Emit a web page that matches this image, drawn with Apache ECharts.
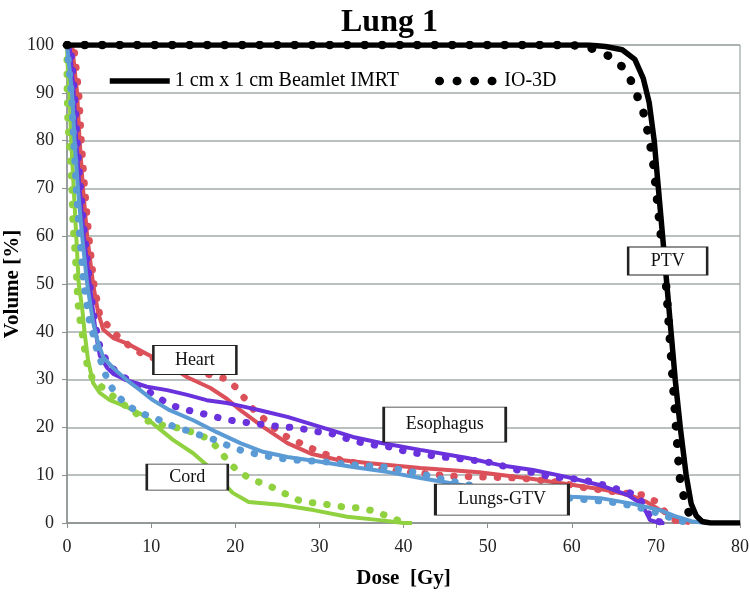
<!DOCTYPE html>
<html>
<head>
<meta charset="utf-8">
<script src="https://cdn.jsdelivr.net/npm/echarts@6/dist/echarts.min.js"></script>
<style>
  html, body { margin: 0; padding: 0; background: #fff; }
  #chart { width: 750px; height: 592px; }
</style>
</head>
<body>
<div id="chart"></div>
<script>
// dose [Gy], volume [%]
const ptvBeamlet = [[0,100],[62,100],[64,99.7],[66,99],[67.5,97],[68.5,93],[69.2,88],[69.8,80],[70.3,70],[70.8,60],[71.3,50],[71.8,40],[72.3,30],[72.9,20],[73.6,10],[74.2,4],[74.8,1.5],[75.5,0.3],[76.5,0],[80,0]]
const ptvIO3D = [[0,100],[60,100],[62,99.5],[63.5,98.5],[65.2,97],[66.7,94],[67.5,90.5],[68.4,86.8],[68.9,83],[69.3,79.5],[69.7,75],[70,70],[70.3,65],[70.6,60],[70.9,55],[71.2,50],[71.4,45],[71.6,40],[71.8,35],[72,30],[72.2,25],[72.4,20],[72.6,15],[72.8,10],[73.1,7],[73.4,5],[73.8,2.5],[74.5,0.5],[75,0]]

const heartBeamlet = [[0,100],[0.6,100],[1.2,90],[1.5,80],[1.9,70],[2.4,60],[3.1,50],[3.7,44],[4.3,40.5],[5.5,38.7],[7.1,37.6],[9,35.8],[11,34],[13,32],[14.3,30.5],[17,28.3],[19,26],[20.6,23.6],[23.3,20.1],[26.2,16.7],[29,14.5],[32,13.3],[36,12.5],[42,11.5],[49,10.6],[55,9.3],[60,8],[64,6.9],[67,5.8],[69,4.3],[71,2.2],[72.8,0.3],[74,0]]
const heartIO3D = [[0,100],[0.8,100],[1.4,90],[1.7,80],[2.1,70],[2.6,60],[3.2,50],[3.9,43.5],[4.8,41.4],[5.9,39.3],[7.7,36.6],[9.3,35.1],[12,33.5],[15,32],[17,31],[18.6,30.3],[20,28.5],[21.2,25.9],[22.4,23.2],[23.9,21.1],[25.3,18.8],[26.9,17.4],[28.7,15.9],[30.4,14.6],[32.5,13.2],[34.5,12.5],[36.4,11.5],[38,11.1],[41.6,10.5],[45.5,9.8],[49.9,9.6],[53.9,9.4],[58.3,8.6],[61,7.5],[64,6.8],[66.1,6.3],[68.4,5.9],[69.9,4.6],[71,2.5],[72,0.8],[73,0]]

const esoBeamlet = [[0,100],[0.3,100],[0.8,90],[1.1,80],[1.5,70],[2,60],[2.7,50],[3.4,40],[3.9,35],[4.8,32.4],[5.5,31.2],[7.1,29.9],[9.5,28.5],[11.9,27.8],[14.3,26.8],[16.6,25.7],[19,25.1],[20.6,24.5],[22.9,23.6],[26.2,22.2],[30.1,20.1],[34,18],[37.2,16.8],[42,15.3],[47.6,13.6],[51.5,12.1],[55.4,11.1],[59.5,9.6],[63.4,7.9],[66.6,5.9],[68.1,4.2],[68.9,2.1],[69.3,0.6],[70.5,0],[71,0]]
const esoIO3D = [[0,100],[0.4,100],[0.9,90],[1.2,80],[1.6,70],[2.1,60],[2.7,50],[3.3,42],[3.9,37],[4.8,33.5],[6.1,31.2],[7.7,29.5],[9.3,28],[10.9,26.1],[12.6,24.5],[14.4,23.6],[16.3,22.8],[18.1,22],[20,21.3],[22,20.9],[23.8,20.5],[25.6,20.1],[27.5,19.9],[29.3,19.2],[31.3,18.8],[33,17.8],[34.8,16.9],[36.6,16.3],[38.4,15.9],[40.4,14.9],[42.2,14.4],[44.1,13.9],[45.9,13.6],[47.9,13.2],[49.9,12.8],[51.7,12],[53.5,11.1],[55.6,10.5],[57.6,9.6],[59.6,9.4],[61.2,9],[63,8.4],[64.6,7.5],[66,6.8],[67.3,6.1],[68.3,4.5],[69.1,2.1],[69.5,0.6],[70.9,0.1],[72,0]]

const lungsBeamlet = [[0,100],[0.2,100],[0.6,90],[0.9,80],[1.3,70],[1.8,60],[2.4,50],[3.1,42],[3.6,38.3],[4.3,34.7],[5.5,32.4],[7.1,29.9],[8.7,27.8],[10.2,25.7],[12.2,23.6],[15,21.5],[17.8,19],[20.6,16.7],[23.3,14.9],[26.2,13.8],[30.1,12.8],[34,11.7],[38,10.7],[42,9.4],[46,8.2],[50,7],[55,6.2],[60,5.5],[63.4,5.2],[67.3,4],[70.5,2.7],[72.5,1.3],[74.4,0.3],[76,0],[80,0]]
const lungsIO3D = [[0,100],[0.2,100],[0.5,90],[0.8,80],[1.1,70],[1.5,60],[2,50],[2.7,42],[3.1,39.5],[3.6,35.8],[4.2,33],[4.8,29.9],[5.7,27.2],[7.1,24.7],[8.7,23],[10.5,22],[12.2,20.5],[14,19.5],[15.8,18.4],[17.6,17.4],[19.4,16],[21.2,14.9],[23.2,14.2],[25,13.6],[26.9,13.2],[30.7,12.8],[34.5,12.1],[38,11.7],[41.6,10.5],[45,9],[49,7.5],[53,6.3],[56.6,5.4],[59.8,5.2],[64.6,4.4],[66.6,3.8],[68.5,3],[70.2,2.1],[72.5,0.6],[74,0]]

const cordBeamlet = [[0,100],[0.1,95],[0.3,90],[0.5,80],[0.8,70],[1.1,60],[1.4,50],[1.8,45],[2.1,39.7],[2.5,34.1],[3.1,29.3],[3.9,27.2],[5.1,25.7],[7.1,24.3],[9,22.6],[10.7,20.1],[12.6,17.4],[15,14.6],[17,11.5],[18.5,8.5],[19.7,6.3],[21.6,4.4],[25.3,3.8],[29.3,2.7],[33.3,1.3],[37.2,0.6],[40,0],[41,0]]
const cordIO3D = [[0,100],[0,92],[0.1,84],[0.4,76.6],[0.6,69.7],[0.7,62.8],[1,55.6],[1.2,49.4],[1.3,46],[1.5,42.9],[1.8,39.7],[2.1,36.2],[2.4,33],[3.1,29.9],[4.9,27.4],[6.3,25.3],[7.7,23.6],[9.3,21.5],[11.3,20.5],[13.1,19.9],[14.9,19],[16.6,17.8],[18.2,15.3],[19.1,12.8],[20.6,10.5],[22.1,9],[23.9,7.9],[25.7,6.3],[27.5,4.8],[29.3,4.2],[31.3,3.8],[33.1,3.3],[35.1,3.1],[36.9,2.3],[38.6,1],[40.4,0]]

// structure labels: name, [dose, volume] of box centre, box size
const labelNames = ['Heart', 'Cord', 'Esophagus', 'Lungs-GTV', 'PTV']
const labelCoords = [[15.2, 34.1], [14.3, 9.6], [44.9, 20.6], [51.7, 4.9], [71.4, 54.8]]
const labelSizes = [[83, 29], [81, 26], [122, 35], [133, 31], [79, 28]]

const serif = '"Liberation Serif", "DejaVu Serif", serif'

function solid(name, data, color, width) {
  return {
    name: name, type: 'line', data: data, symbol: 'none', showSymbol: false,
    lineStyle: { color: color, width: width || 4 }, itemStyle: { color: color },
    animation: false
  }
}
function dotted(name, data, color, size, gap) {
  return {
    name: name, type: 'line', data: data, symbol: 'none', showSymbol: false,
    lineStyle: { color: color, width: size || 7, type: [0.5, gap || 14], cap: 'round' },
    itemStyle: { color: color },
    animation: false
  }
}

const chart = echarts.init(document.getElementById('chart'))

const series = [
  solid('cord', cordBeamlet, '#8fd13f'),
  dotted('cord io', cordIO3D, '#8fd13f'),
  solid('heart', heartBeamlet, '#dc505a'),
  dotted('heart io', heartIO3D, '#dc505a'),
  solid('eso', esoBeamlet, '#6a32dc'),
  dotted('eso io', esoIO3D, '#6a32dc'),
  solid('lungs', lungsBeamlet, '#5b9bd5'),
  dotted('lungs io', lungsIO3D, '#5b9bd5'),
  solid('1 cm x 1 cm Beamlet IMRT', ptvBeamlet, '#000', 5.5),
  dotted('IO-3D', ptvIO3D, '#000', 8.5, 17),
  {
    name: 'labels', type: 'line', data: [], z: 10, animation: false,
    markPoint: {
      symbol: 'rect', animation: false,
      data: labelNames.map((n, i) => ({
        name: n, coord: labelCoords[i], symbolSize: labelSizes[i]
      })),
      itemStyle: { color: '#fff', borderColor: '#222', borderWidth: 1.5 },
      label: {
        show: true, position: 'inside', formatter: '{b}',
        color: '#111', fontFamily: serif, fontSize: 18
      }
    }
  }
]

const option = {
  backgroundColor: '#fff',
  title: {
    text: 'Lung 1', left: 336, top: 2,
    textStyle: { fontFamily: serif, fontSize: 32, fontWeight: 'bold', color: '#000' }
  },
  legend: {
    data: ['1 cm x 1 cm Beamlet IMRT', 'IO-3D'],
    left: 102, top: 66, itemWidth: 60, itemHeight: 20, itemGap: 36,
    selectedMode: false,
    itemStyle: { opacity: 0 },
    lineStyle: { width: 'inherit' },
    textStyle: { fontFamily: serif, fontSize: 20, color: '#000' }
  },
  grid: {
    left: 67, right: 10, top: 45, bottom: 69,
    containLabel: false, outerBoundsMode: 'none',
    show: true, borderColor: '#8a9090', borderWidth: 1
  },
  xAxis: {
    type: 'value', min: 0, max: 80, interval: 10,
    name: 'Dose  [Gy]', nameLocation: 'middle', nameGap: 45, nameMoveOverlap: false,
    nameTextStyle: { fontFamily: serif, fontSize: 21, fontWeight: 'bold', color: '#000' },
    axisLine: { show: true, lineStyle: { color: '#8a9090', width: 1.5 } },
    axisTick: { show: true, length: 5, lineStyle: { color: '#8a9090' } },
    axisLabel: { fontFamily: serif, fontSize: 18, color: '#222', margin: 15 },
    splitLine: { show: false }
  },
  yAxis: {
    type: 'value', min: 0, max: 100, interval: 10,
    name: 'Volume [%]', nameLocation: 'middle', nameGap: 44, nameMoveOverlap: false,
    nameTextStyle: { fontFamily: serif, fontSize: 21, fontWeight: 'bold', color: '#000' },
    axisLine: { show: true, lineStyle: { color: '#8a9090', width: 1.5 } },
    axisTick: { show: true, length: 5, lineStyle: { color: '#8a9090' } },
    axisLabel: { fontFamily: serif, fontSize: 18, color: '#222', margin: 13 },
    splitLine: { show: true, lineStyle: { color: '#a3abab', width: 1.5 } }
  },
  series: series
}

chart.setOption(option)
</script>
</body>
</html>
